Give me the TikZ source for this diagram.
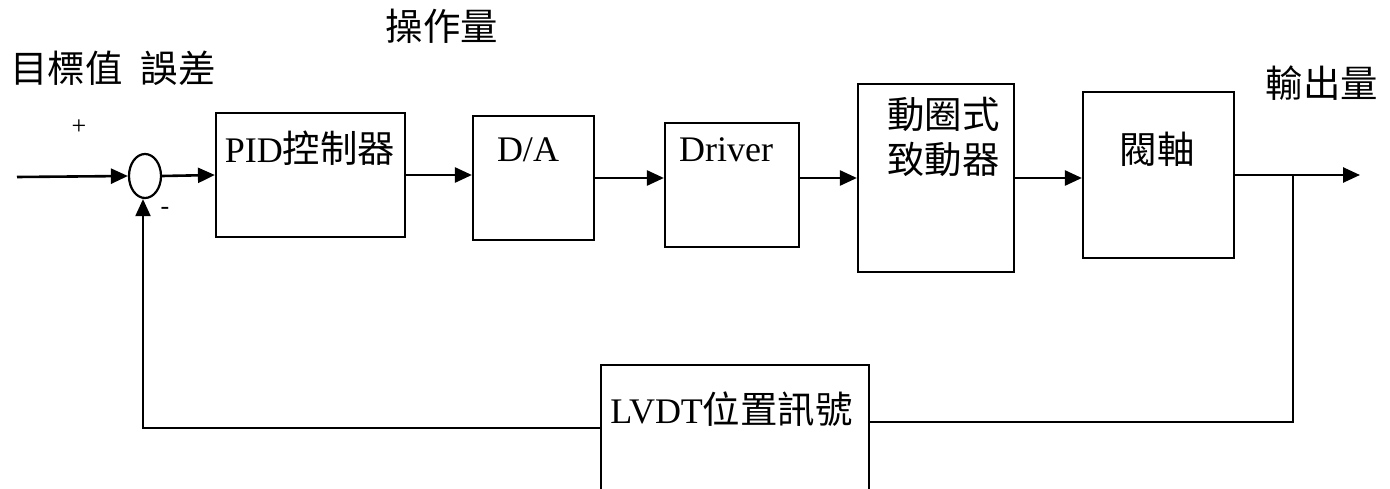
\documentclass[tikz,border=0pt]{standalone}
\usepackage{fontspec}
\setmainfont{Liberation Serif}
\newfontfamily\cjk[Scale=1.04]{Noto Sans CJK TC}
\usetikzlibrary{arrows.meta,shapes.geometric}
\begin{document}
\begin{tikzpicture}[x=1pt,y=-1pt,line width=2.2pt,
  box/.style={draw,rectangle,inner sep=0pt},
  lbl/.style={anchor=base,inner sep=0pt,font=\fontsize{36}{40}\selectfont},
  sgn/.style={anchor=base,inner sep=0pt,font=\fontsize{26}{28}\selectfont},
  arr/.style={line width=2.6pt,-{Triangle[length=17pt,width=15pt]}},
  thin line/.style={line width=2pt}]
\useasboundingbox (0,0) rectangle (1390,489);
\clip (0,0) rectangle (1390,489);

% blocks
\node[draw,ellipse,inner sep=0pt,minimum width=32pt,minimum height=44pt] (sum) at (145,176) {};
\node[box,minimum width=189pt,minimum height=124pt] (pid) at (310.5,175) {};
\node[box,minimum width=121pt,minimum height=124pt] (da) at (533.5,178) {};
\node[box,minimum width=134pt,minimum height=124pt] (drv) at (732,185) {};
\node[box,minimum width=156pt,minimum height=188pt] (act) at (936,178) {};
\node[box,minimum width=151pt,minimum height=166pt] (val) at (1158.5,175) {};
\node[box,minimum width=268pt,minimum height=170pt] (lvdt) at (735,450) {};

% texts in blocks
\node[lbl] (tpid) at (310,163) {PID{\cjk 控制器}};
\node[lbl] (tda) at (528,162) {D/A};
\node[lbl] (tdrv) at (726,162) {Driver};
\node[lbl] (tact1) at (943.5,129) {\cjk 動圈式};
\node[lbl] (tact2) at (943.5,174) {\cjk 致動器};
\node[lbl] (tval) at (1157,164) {\cjk 閥軸};
\node[lbl] (tlvdt) at (731.5,423) {LVDT{\cjk 位置訊號}};

% free labels
\node[lbl] (lop) at (442,41) {\cjk 操作量};
\node[lbl] (ltarget) at (66.5,83) {\cjk 目標值};
\node[lbl] (lerr) at (178,83) {\cjk 誤差};
\node[lbl] (lout) at (1322,98) {\cjk 輸出量};
\node[sgn] (plus) at (79,135) {+};
\node[sgn] (minus) at (165,215) {-};

% coordinates
\coordinate (in) at (17,177);
\coordinate (out) at (1360,175);
\coordinate (br) at (1293,175);
\coordinate (fr) at (1293,422);
\coordinate (fl) at (143,428);

% forward path
\draw[arr] (in) -- (sum.west);
\draw[arr] (sum.east) -- (pid.west);
\draw[arr] (pid.east) -- (pid.east -| da.west);
\draw[arr] (da.east) -- (da.east -| drv.west);
\draw[arr] (drv.east |- act.west) -- (act.west);
\draw[arr] (act.east) -- (act.east -| val.west);
\draw[arr] (val.east) -- (out);

% feedback path
\draw[thin line] (br) -- (fr) -- (fr -| lvdt.east);
\draw[arr,line width=2pt] (fl -| lvdt.west) -- (fl) -- (fl |- sum.south);
\end{tikzpicture}
\end{document}
